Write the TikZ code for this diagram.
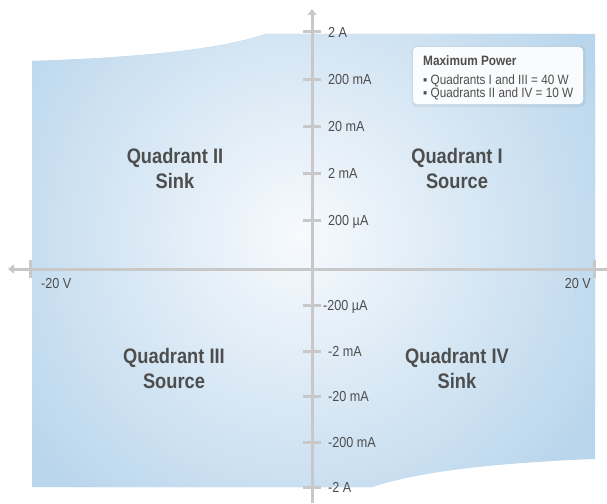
\documentclass[tikz,border=0pt]{standalone}
\usepackage{fontspec}
\setmainfont{Liberation Sans}[FakeStretch=0.87]
\usetikzlibrary{arrows.meta}
\definecolor{axisgray}{RGB}{200,200,200}
\definecolor{txtgray}{RGB}{78,78,78}
\definecolor{bluedge}{RGB}{186,214,236}
\definecolor{bluecenter}{RGB}{247,250,253}
\begin{document}
\begin{tikzpicture}[x=1pt,y=-1pt,
  axisline/.style={draw=axisgray,line width=3pt},
  tickmark/.style={draw=axisgray,line width=3pt},
  quadlabel/.style={font=\fontsize{21}{25}\selectfont\bfseries,text=txtgray,align=center,inner sep=0pt},
  vlabel/.style={font=\fontsize{14.5}{17}\selectfont,text=txtgray,inner sep=0pt,anchor=base west},
  hlabel/.style={font=\fontsize{14.5}{17}\selectfont,text=txtgray,inner sep=0pt},
  legtitle/.style={font=\fontsize{13.6}{15}\selectfont\bfseries,text=txtgray,inner sep=0pt,anchor=base west},
  legline/.style={font=\fontsize{13.5}{15}\selectfont,text=txtgray,inner sep=0pt,anchor=base west},
  tip/.style={-{Triangle[width=9pt,length=6pt]}}]
\useasboundingbox (0,0) rectangle (607,503);
% background region
\begin{scope}
\clip (32,61) .. controls (130,58) and (220,50) .. (265,34) -- (595,34) -- (595,459)
  .. controls (480,463) and (410,474) .. (372,487) -- (32,487) -- cycle;
\fill[bluedge] (0,0) rectangle (607,503);
\shade[inner color=bluecenter, outer color=bluedge] (300,235) circle[radius=340];
\end{scope}
% axes
\coordinate (vtop) at (312,9);
\coordinate (vbot) at (312,503);
\coordinate (hleft) at (8,269);
\coordinate (hright) at (607,269);
\draw[axisline,tip] (vbot) -- (vtop);
\draw[axisline,tip] (hright) -- (hleft);
% horizontal ticks
\coordinate (tl1) at (30,260); \coordinate (tl2) at (30,278);
\coordinate (tr1) at (594,260); \coordinate (tr2) at (594,278);
\draw[tickmark] (tl1) -- (tl2);
\draw[tickmark] (tr1) -- (tr2);
\node[hlabel,anchor=base west] (vneg) at (41,288) {-20 V};
\node[hlabel,anchor=base east] (vpos) at (591,288) {20 V};
% vertical ticks
\foreach \y/\lab/\i in {32/2 A/1, 79/200 mA/2, 126/20 mA/3, 173/2 mA/4, 220/200 µA/5,
                        351/-2 mA/7, 396/-20 mA/8, 442/-200 mA/9, 487/-2 A/10}{
  \coordinate (ta\i) at (303,\y);
  \coordinate (tb\i) at (321,\y);
  \draw[tickmark] (ta\i) -- (tb\i);
  \node[vlabel] (lab\i) at (328,\y+5.2) {\lab};
}
\coordinate (ta6) at (303,305);
\coordinate (tb6) at (321,305);
\draw[tickmark] (ta6) -- (tb6);
\node[vlabel] (lab6) at (323,310.2) {-200 µA};
% quadrant labels
\node[quadlabel] (q2) at (175,168) {Quadrant II\\Sink};
\node[quadlabel] (q1) at (457,168) {Quadrant I\\Source};
\node[quadlabel] (q3) at (174,368) {Quadrant III\\Source};
\node[quadlabel] (q4) at (457,368) {Quadrant IV\\Sink};
% legend
\node[fill=black,fill opacity=0.05,rounded corners=5pt,minimum width=174pt,minimum height=61pt,inner sep=0pt] (legshadow) at (498.5,76.5) {};
\node[fill=white,fill opacity=0.93,rounded corners=4pt,minimum width=170pt,minimum height=57pt,inner sep=0pt] (legend) at (498,75.5) {};
\node[legtitle] (legt) at (423,66) {Maximum Power};
\node[legline] (leg1) at (423,84) {▪ Quadrants I and III = 40 W};
\node[legline] (leg2) at (423,97) {▪ Quadrants II and IV = 10 W};
\end{tikzpicture}
\end{document}
